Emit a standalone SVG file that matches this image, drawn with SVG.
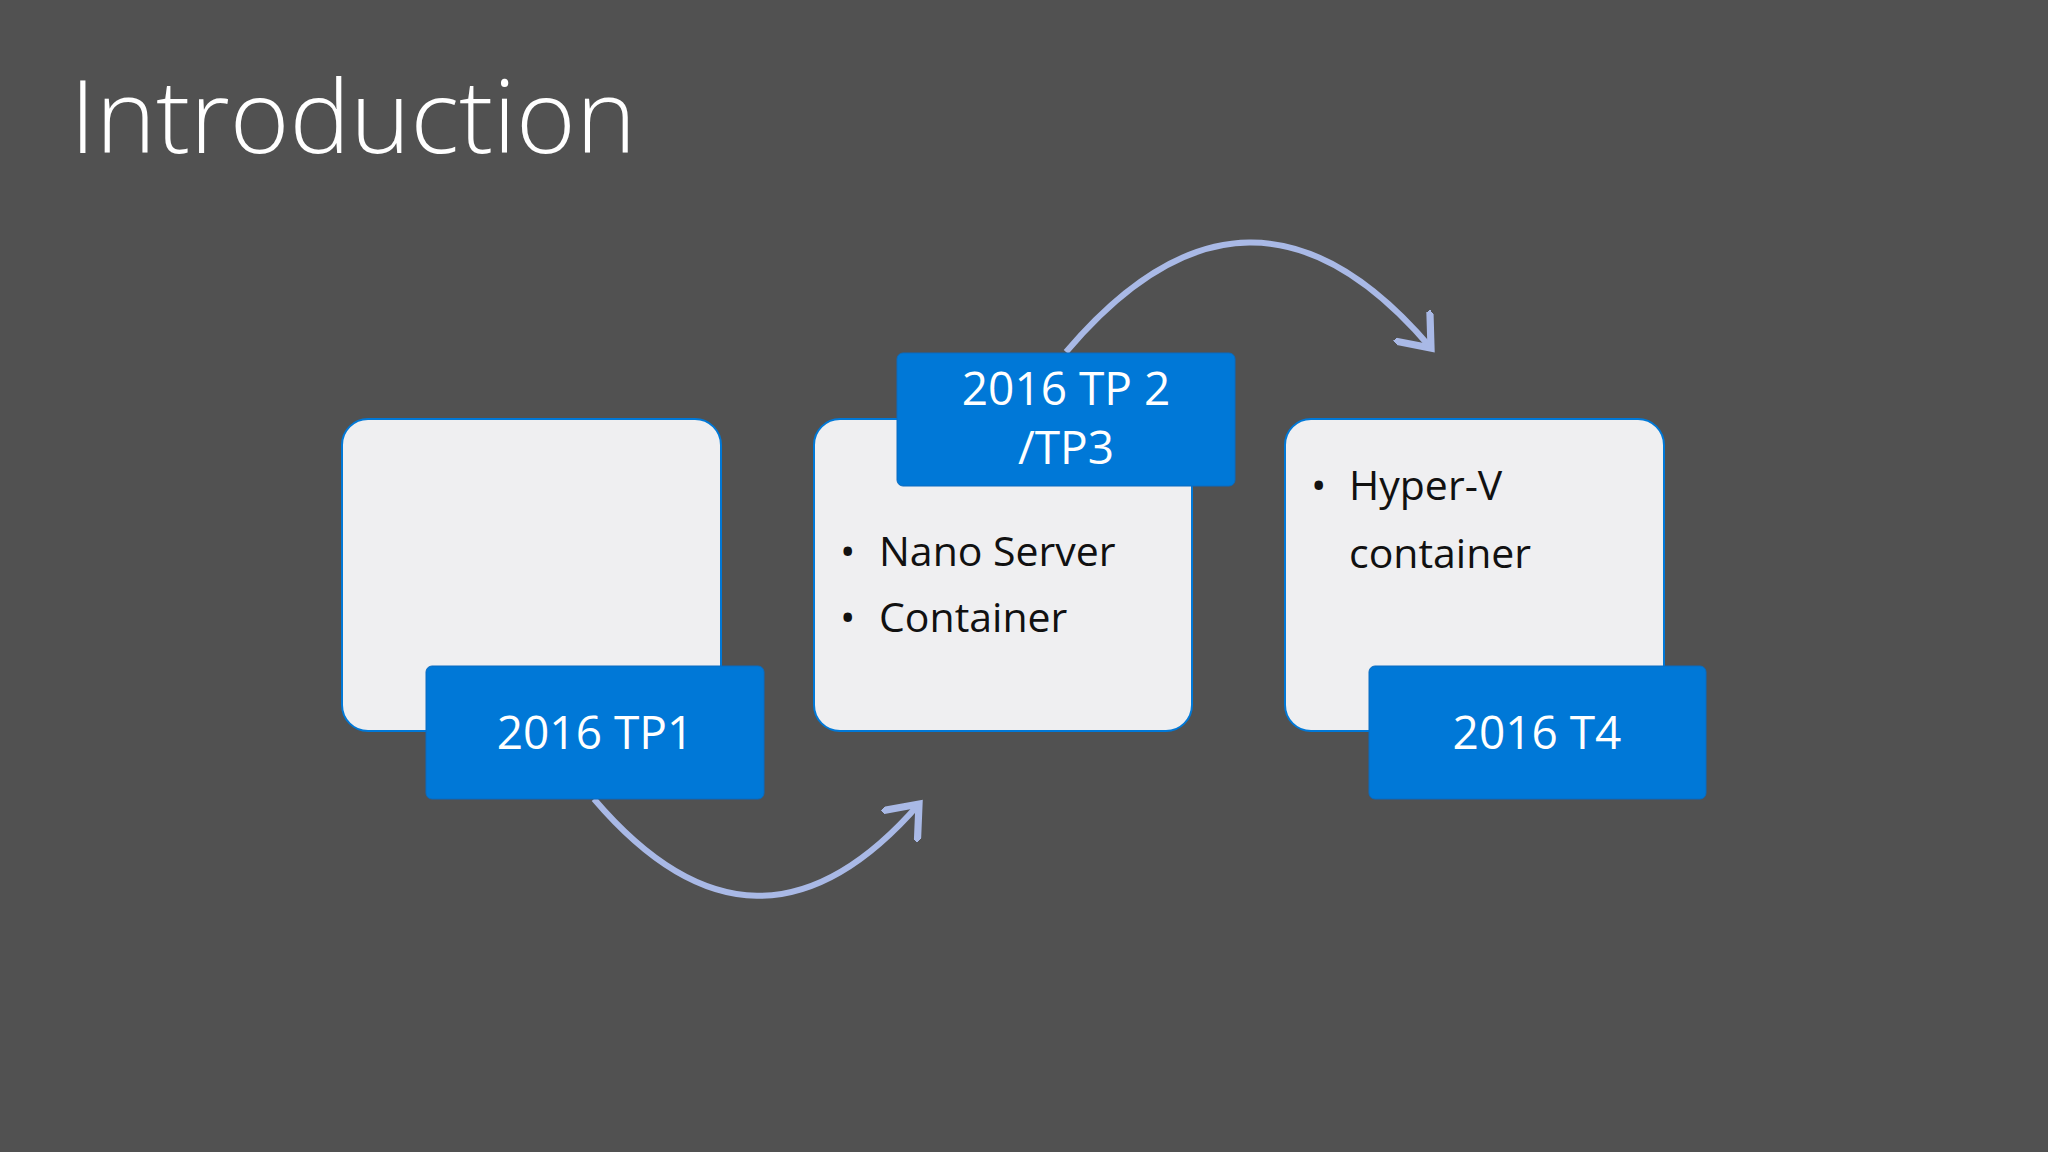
<svg xmlns="http://www.w3.org/2000/svg" width="2048" height="1152" viewBox="0 0 2048 1152">
<defs>
<style>
.box{fill:#efeff1;stroke:#0078d7;stroke-width:2}
.lab{fill:#0078d7;stroke:#0a6bc0;stroke-width:1}
.lt{font-family:"Open Sans","Noto Sans",sans-serif;font-size:46px;fill:#ffffff;text-anchor:middle}
.bt{font-family:"Open Sans","Noto Sans",sans-serif;font-size:41px;fill:#111111}
.arc{fill:none;stroke:#a9b9e6;stroke-width:6}
</style>
<marker id="ah" markerWidth="8" markerHeight="8" refX="5" refY="4" orient="auto" markerUnits="strokeWidth">
<path d="M0,0 L5,4 L0,8" fill="none" stroke="#a9b9e6" stroke-width="1.2"/>
</marker>
</defs>
<rect width="2048" height="1152" fill="#515151"/>
<text x="70" y="153" font-family="Open Sans,Noto Sans,sans-serif" font-weight="300" font-size="102" fill="#ffffff">Introduction</text>
<g id="connectors">
<path class="arc" d="M594 799 Q757 990 919 804" marker-end="url(#ah)"/>
<path class="arc" d="M1066 352 Q1250 135 1431 348" marker-end="url(#ah)"/>
</g>
<g id="node1">
<rect class="box" x="342" y="419" width="379" height="312" rx="26"/>
<rect class="lab" x="426" y="666" width="338" height="133" rx="6"/>
<text class="lt" x="595" y="749">2016 TP1</text>
</g>
<g id="node2">
<rect class="box" x="814" y="419" width="378" height="312" rx="26"/>
<text class="bt" x="840" y="566">•</text><text class="bt" x="879" y="566">Nano Server</text>
<text class="bt" x="840" y="632">•</text><text class="bt" x="879" y="632">Container</text>
<rect class="lab" x="897" y="353" width="338" height="133" rx="6"/>
<text class="lt" x="1066" y="405">2016 TP 2</text>
<text class="lt" x="1066" y="464">/TP3</text>
</g>
<g id="node3">
<rect class="box" x="1285" y="419" width="379" height="312" rx="26"/>
<text class="bt" x="1311" y="500">•</text><text class="bt" x="1349" y="500">Hyper-V</text>
<text class="bt" x="1349" y="568">container</text>
<rect class="lab" x="1369" y="666" width="337" height="133" rx="6"/>
<text class="lt" x="1537" y="749">2016 T4</text>
</g>
</svg>
